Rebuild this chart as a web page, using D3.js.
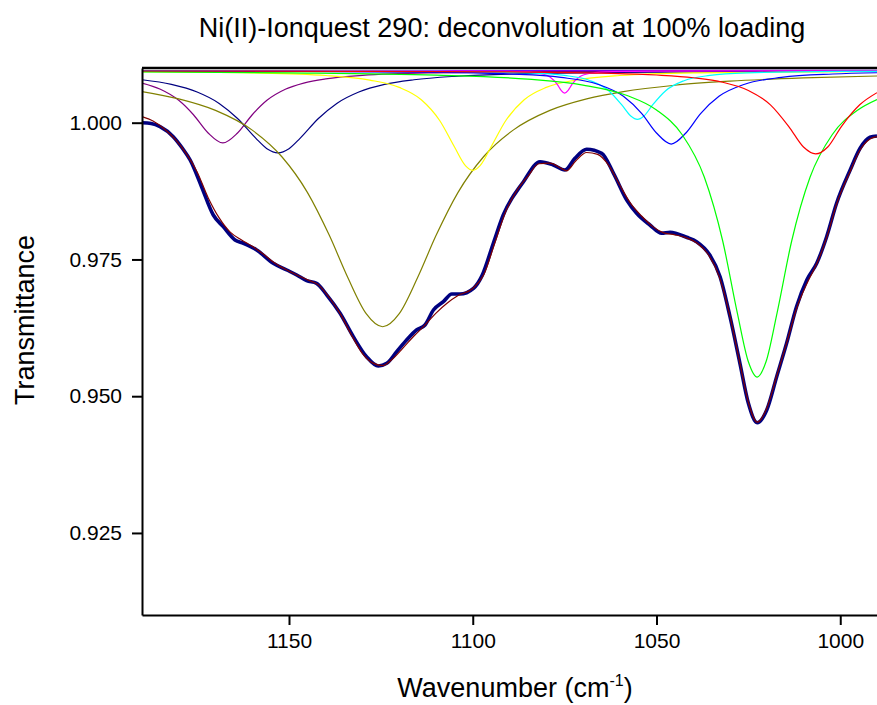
<!DOCTYPE html>
<html>
<head>
<meta charset="utf-8">
<script src="https://cdn.jsdelivr.net/npm/d3@7"></script>
<style>
  body { margin: 0; background: #fff; }
  text { font-family: 'Liberation Sans', Arial, sans-serif; }
</style>
</head>
<body>
<script>
// values: [wavenumber, transmittance]
let xTicks = [1150, 1100, 1050, 1000]
let yTicks = [1.0, 0.975, 0.95, 0.925]

let measured = [
  [1190, 1.0], [1187.5, 0.99985], [1185.1, 0.99927], [1181.5, 0.99744], [1179, 0.99532],
  [1176.9, 0.99318], [1173.8, 0.9883], [1170.6, 0.98313], [1167.9, 0.98099], [1164.7, 0.97856],
  [1162.4, 0.97795], [1158.8, 0.97673], [1154.3, 0.9743], [1150.6, 0.97307], [1147.9, 0.97216],
  [1145.2, 0.97112], [1142.5, 0.97064], [1139.7, 0.9685], [1136.1, 0.96516], [1132.5, 0.96088],
  [1128.9, 0.95722], [1125.7, 0.95552], [1123.4, 0.95601], [1120.7, 0.95814], [1118.0, 0.96027],
  [1115.3, 0.9621], [1113.0, 0.96302], [1110.7, 0.96576], [1108.0, 0.96728], [1105.7, 0.96868],
  [1103.5, 0.96868], [1099.8, 0.96973], [1097.5, 0.972], [1094.4, 0.97795], [1091.7, 0.98313],
  [1086.2, 0.98921], [1081.7, 0.99287], [1078.1, 0.99227], [1074.9, 0.99135], [1072.2, 0.99349],
  [1069.0, 0.99514], [1064.9, 0.9944], [1061.7, 0.99075], [1058.1, 0.98587], [1055.4, 0.98344],
  [1051.8, 0.9813], [1048.6, 0.97978], [1046.3, 0.97996], [1041.8, 0.97905], [1039.1, 0.97825],
  [1035.5, 0.97581], [1032.7, 0.97185], [1030.0, 0.96453], [1027.3, 0.95601], [1025.0, 0.9487],
  [1022.6, 0.94516], [1020.0, 0.94748], [1017.3, 0.95356], [1014.6, 0.95967], [1011.9, 0.96636],
  [1009.1, 0.97124], [1006.4, 0.9743], [1003.7, 0.97916], [1001.0, 0.98527], [997.3, 0.99135],
  [994.6, 0.99532], [991.9, 0.99733], [990, 0.99757]
]

let fitted = [
  [1190, 1.0011], [1187, 1.0003], [1184, 0.9989], [1181, 0.997], [1178, 0.9944], [1175, 0.991],
  [1172, 0.9863], [1169, 0.9826], [1166, 0.98], [1163, 0.9786], [1160, 0.9774], [1157, 0.976],
  [1154, 0.9744], [1151, 0.9732], [1148, 0.9722], [1145, 0.9713], [1142, 0.97035], [1139, 0.968],
  [1136, 0.965], [1133, 0.9612], [1130, 0.9578], [1127, 0.956], [1124.5, 0.9556], [1122, 0.9567],
  [1119, 0.9588], [1116, 0.961], [1113, 0.963], [1110, 0.9652], [1107, 0.967], [1104, 0.9684],
  [1100, 0.9697], [1097, 0.9722], [1094, 0.978], [1091, 0.9838], [1088, 0.9876], [1085, 0.9902],
  [1082, 0.9925], [1079, 0.9926], [1076, 0.9917], [1074.5, 0.9912], [1072, 0.993], [1069, 0.99455],
  [1066, 0.9942], [1063, 0.9922], [1060, 0.9886], [1057, 0.9852], [1054, 0.9829], [1051, 0.981],
  [1048, 0.97985], [1045, 0.9795], [1042, 0.979], [1039, 0.978], [1036, 0.976], [1033, 0.972],
  [1030, 0.9646], [1027.3, 0.956], [1025, 0.9489], [1022.6, 0.94525], [1020, 0.9478], [1017.3, 0.9537],
  [1014.6, 0.9597], [1012, 0.9658], [1009, 0.9707], [1006.4, 0.9742], [1003.7, 0.979], [1001, 0.9851],
  [997.3, 0.9911], [994.6, 0.995], [991.9, 0.997], [990, 0.99745]
]

// component peaks
let peakViolet = [[1190, 1.00948], [1100, 1.00952], [990, 1.00958]]

let peakPurple = [
  [1190, 1.00724], [1185, 1.00611], [1180, 1.00409], [1176, 1.00145], [1172, 0.99812], [1168, 0.9963],
  [1164, 0.99812], [1160, 1.00145], [1156, 1.00409], [1151, 1.00611], [1146, 1.00724], [1140, 1.00801],
  [1130, 1.00865], [1110, 1.00912], [1080, 1.00933], [1040, 1.00942], [990, 1.00945]
]

let peakNavy = [
  [1190, 1.00785], [1182, 1.007], [1175, 1.00561], [1169, 1.00353], [1164, 1.00076], [1159, 0.99714],
  [1156, 0.99526], [1153, 0.9945], [1150, 0.99526], [1147, 0.99714], [1142, 1.00076], [1137, 1.00353],
  [1131, 1.00561], [1124, 1.007], [1116, 1.00785], [1105, 1.00848], [1090, 1.00889], [1060, 1.00921],
  [1020, 1.00936], [990, 1.00941]
]

let peakOlive = [
  [1190, 1.00569], [1180, 1.00435], [1170, 1.00225], [1160, 0.99864], [1152, 0.99382], [1145, 0.98727],
  [1139, 0.97936], [1134, 0.97169], [1129, 0.96509], [1124.5, 0.9627], [1120, 0.96509], [1115, 0.97169],
  [1110, 0.97936], [1104, 0.98727], [1097, 0.99382], [1089, 0.99864], [1079, 1.00225], [1069, 1.00435],
  [1059, 1.00569], [1045, 1.00685], [1030, 1.00759], [1010, 1.00818], [990, 1.00854]
]

let peakYellow = [
  [1190, 1.00932], [1160, 1.0091], [1140, 1.00863], [1128, 1.00779], [1120, 1.00645], [1114, 1.0042],
  [1109, 1.0004], [1105, 0.9956], [1102, 0.99216], [1100, 0.9913], [1098, 0.99216], [1095, 0.9956],
  [1091, 1.0004], [1086, 1.0042], [1080, 1.00645], [1072, 1.00779], [1060, 1.00863], [1040, 1.0091],
  [990, 1.00938]
]

let peakMagenta = [
  [1190, 1.0095], [1100, 1.00944], [1088, 1.00935], [1082, 1.00904], [1079, 1.00835], [1077, 1.007],
  [1076, 1.00597], [1075, 1.0054], [1074, 1.00597], [1073, 1.007], [1071, 1.00835], [1068, 1.00904],
  [1062, 1.00935], [1050, 1.00944], [990, 1.0095]
]

let peakCyan = [
  [1190, 1.0095], [1110, 1.00938], [1085, 1.0091], [1075, 1.00864], [1068, 1.00768], [1063, 1.00585],
  [1059.5, 1.0033], [1057, 1.00123], [1055.2, 1.0006], [1053.4, 1.00123], [1051, 1.0033], [1047.5, 1.00585],
  [1042.5, 1.00768], [1035.5, 1.00864], [1025.5, 1.0091], [1000, 1.00938], [990, 1.0094]
]

let peakBlue = [
  [1190, 1.00944], [1150, 1.00939], [1110, 1.00921], [1090, 1.0089], [1076, 1.00828], [1066, 1.00704],
  [1059, 1.00483], [1054, 1.00166], [1050, 0.99812], [1046, 0.9961], [1042, 0.99812], [1038, 1.00166],
  [1033, 1.00483], [1026, 1.00704], [1016, 1.00828], [1002, 1.0089], [990, 1.00913]
]

let peakGreen = [
  [1190, 1.00928], [1150, 1.00912], [1110, 1.0087], [1085, 1.00796], [1070, 1.00688], [1058, 1.00497],
  [1050, 1.00233], [1043, 0.9978], [1037, 0.99007], [1032, 0.97842], [1028, 0.9652], [1025, 0.9563],
  [1022.6, 0.9535], [1020.2, 0.9563], [1017.2, 0.9652], [1013.2, 0.97842], [1008.2, 0.99007],
  [1002.2, 0.9978], [995.2, 1.00233], [990, 1.00424]
]

let peakRed = [
  [1190, 1.00945], [1130, 1.0094], [1090, 1.00928], [1065, 1.00906], [1050, 1.00872], [1040, 1.00822],
  [1032, 1.0074], [1025, 1.0059], [1019, 1.00327], [1014, 0.9993], [1010, 0.99556], [1006.7, 0.9943],
  [1003.4, 0.99556], [999.7, 0.9993], [994.7, 1.00327], [990, 1.00549]
]

let components = [
  { key: 'violet', color: '#8000ff', values: peakViolet },
  { key: 'purple', color: '#800080', values: peakPurple },
  { key: 'navy', color: '#000080', values: peakNavy },
  { key: 'olive', color: '#808000', values: peakOlive },
  { key: 'yellow', color: '#ffff00', values: peakYellow },
  { key: 'magenta', color: '#ff00ff', values: peakMagenta },
  { key: 'cyan', color: '#00ffff', values: peakCyan },
  { key: 'blue', color: '#0000ff', values: peakBlue },
  { key: 'green', color: '#00ff00', values: peakGreen },
  { key: 'red', color: '#ff0000', values: peakRed }
]

let margin = { top: 68, left: 142, right: 0, bottom: 90 }
let width = 877 - margin.left - margin.right
let height = 705 - margin.top - margin.bottom

let svg = d3
  .select('body')
  .append('svg')
  .attr('width', 877)
  .attr('height', 705)
  .append('g')
  .attr('transform', 'translate(' + margin.left + ',' + margin.top + ')')

let xPositionScale = d3.scaleLinear().domain([1190, 990]).range([0, width])
let yPositionScale = d3.scaleLinear().domain([0.91, 1.01]).range([height, 0])

let line = d3
  .line()
  .x(d => xPositionScale(d[0]))
  .y(d => yPositionScale(d[1]))
  .curve(d3.curveMonotoneX)

svg
  .append('clipPath')
  .attr('id', 'plot-clip')
  .append('rect')
  .attr('width', width)
  .attr('height', height)

let plot = svg.append('g').attr('clip-path', 'url(#plot-clip)')

plot
  .selectAll('.component')
  .data(components)
  .enter()
  .append('path')
  .attr('class', 'component')
  .attr('d', d => line(d.values))
  .attr('stroke', d => d.color)
  .attr('stroke-width', 1.2)
  .attr('fill', 'none')

plot
  .append('path')
  .datum(measured)
  .attr('d', line)
  .attr('stroke', '#000080')
  .attr('stroke-width', 3.6)
  .attr('stroke-linejoin', 'round')
  .attr('fill', 'none')

plot
  .append('path')
  .datum(fitted)
  .attr('d', line)
  .attr('stroke', '#800000')
  .attr('stroke-width', 1.2)
  .attr('fill', 'none')

// axes
let xAxis = d3
  .axisBottom(xPositionScale)
  .tickValues(xTicks)
  .tickSize(10)
  .tickSizeOuter(0)
  .tickPadding(8)
  .tickFormat(d3.format('d'))

svg
  .append('g')
  .attr('class', 'axis x-axis')
  .attr('transform', 'translate(0,' + height + ')')
  .call(xAxis)

let yAxis = d3
  .axisLeft(yPositionScale)
  .tickValues(yTicks)
  .tickSize(10)
  .tickSizeOuter(0)
  .tickPadding(10)
  .tickFormat(d3.format('.3f'))

svg
  .append('g')
  .attr('class', 'axis y-axis')
  .call(yAxis)

svg
  .selectAll('.axis')
  .attr('font-family', "'Liberation Sans', Arial, sans-serif")
  .attr('font-size', 21)
svg.selectAll('.axis path, .axis line').attr('stroke', '#000').attr('stroke-width', 2)
svg.selectAll('.axis text').attr('fill', '#000')

// top frame line
svg
  .append('line')
  .attr('x1', 0)
  .attr('x2', width)
  .attr('y1', 0)
  .attr('y2', 0)
  .attr('stroke', '#000')
  .attr('stroke-width', 2.5)

// titles
svg
  .append('text')
  .attr('x', 502 - margin.left)
  .attr('y', 37 - margin.top)
  .attr('text-anchor', 'middle')
  .attr('font-size', 27)
  .text('Ni(II)-Ionquest 290: deconvolution at 100% loading')

let xLabel = svg
  .append('text')
  .attr('x', 515 - margin.left)
  .attr('y', height + 82)
  .attr('text-anchor', 'middle')
  .attr('font-size', 27)
xLabel.append('tspan').text('Wavenumber (cm')
xLabel
  .append('tspan')
  .attr('font-size', 16)
  .attr('dy', -11)
  .text('-1')
xLabel
  .append('tspan')
  .attr('dy', 11)
  .text(')')

svg
  .append('text')
  .attr('transform', 'translate(' + (34 - margin.left) + ',' + (320 - margin.top) + ') rotate(-90)')
  .attr('text-anchor', 'middle')
  .attr('font-size', 27)
  .text('Transmittance')
</script>
</body>
</html>
